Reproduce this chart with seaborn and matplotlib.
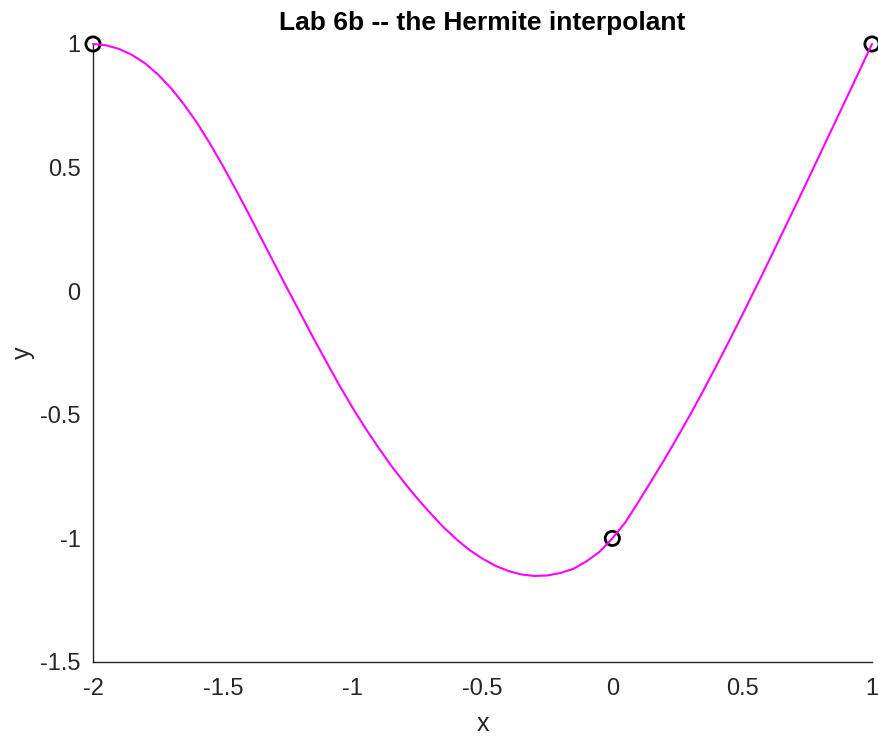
import matplotlib
matplotlib.use("Agg")
import matplotlib.pyplot as plt
import seaborn as sns
import pandas as pd

# Interpolation nodes
node_x = [-2.0, 0.0, 1.0]
node_y = [1.0, -1.0, 1.0]

# Hermite interpolant sampled along [-2, 1] in steps of 0.05
curve_x = [-2.0, -1.95, -1.9, -1.85, -1.8, -1.75, -1.7, -1.65, -1.6, -1.55,
           -1.5, -1.45, -1.4, -1.35, -1.3, -1.25, -1.2, -1.15, -1.1, -1.05,
           -1.0, -0.95, -0.9, -0.85, -0.8, -0.75, -0.7, -0.65, -0.6, -0.55,
           -0.5, -0.45, -0.4, -0.35, -0.3, -0.25, -0.2, -0.15, -0.1, -0.05,
           0.0, 0.05, 0.1, 0.15, 0.2, 0.25, 0.3, 0.35, 0.4, 0.45,
           0.5, 0.55, 0.6, 0.65, 0.7, 0.75, 0.8, 0.85, 0.9, 0.95, 1.0]
curve_y = [1.000, 0.995, 0.980, 0.956, 0.922, 0.877, 0.822, 0.756, 0.682, 0.598,
           0.507, 0.411, 0.312, 0.210, 0.108, 0.007, -0.092, -0.192, -0.288, -0.383,
           -0.472, -0.556, -0.634, -0.708, -0.776, -0.840, -0.899, -0.955, -1.004, -1.047,
           -1.082, -1.111, -1.132, -1.146, -1.152, -1.150, -1.140, -1.123, -1.093, -1.055,
           -1.000, -0.935, -0.853, -0.768, -0.682, -0.592, -0.499, -0.403, -0.303, -0.201,
           -0.097, 0.009, 0.116, 0.225, 0.334, 0.444, 0.555, 0.666, 0.777, 0.888, 1.000]

x_ticks = [-2, -1.5, -1, -0.5, 0, 0.5, 1]
x_tick_labels = ["-2", "-1.5", "-1", "-0.5", "0", "0.5", "1"]
y_ticks = [-1.5, -1, -0.5, 0, 0.5, 1]
y_tick_labels = ["-1.5", "-1", "-0.5", "0", "0.5", "1"]

sns.set_style("white")
plt.rcParams["font.family"] = ["Liberation Sans", "DejaVu Sans"]

ink = "#262626"
fig = plt.figure(figsize=(8.79, 7.37), dpi=100)
ax = fig.add_axes([93 / 879, 1 - 662 / 737, (872 - 93) / 879, (662 - 44) / 737])

nodes = pd.DataFrame({"x": node_x, "y": node_y})
curve = pd.DataFrame({"x": curve_x, "y": curve_y})

sns.scatterplot(data=nodes, x="x", y="y", ax=ax, marker="o", s=105,
                facecolor="none", edgecolor="black", linewidth=2.0,
                zorder=3, clip_on=False)
sns.lineplot(data=curve, x="x", y="y", ax=ax, color="#FF00FF", linewidth=1.5,
             sort=False, estimator=None, zorder=4, clip_on=False)

ax.set_xlim(-2, 1)
ax.set_ylim(-1.5, 1)
ax.set_xticks(x_ticks)
ax.set_xticklabels(x_tick_labels)
ax.set_yticks(y_ticks)
ax.set_yticklabels(y_tick_labels)

for side in ("top", "right"):
    ax.spines[side].set_visible(False)
for side in ("left", "bottom"):
    ax.spines[side].set_color(ink)
    ax.spines[side].set_linewidth(1.0)

ax.tick_params(axis="both", direction="in", length=5, width=1.0, color=ink,
               labelcolor=ink, labelsize=17)
ax.tick_params(axis="x", pad=11.5)
ax.tick_params(axis="y", pad=9)

ax.set_xlabel("x", fontsize=18, color=ink, labelpad=8.5)
ax.set_ylabel("y", fontsize=18, color=ink, labelpad=4)
ax.set_title("Lab 6b -- the Hermite interpolant", fontsize=19, fontweight="bold",
             color="black", pad=10)

fig.savefig("out.png", dpi=100, facecolor="white")
